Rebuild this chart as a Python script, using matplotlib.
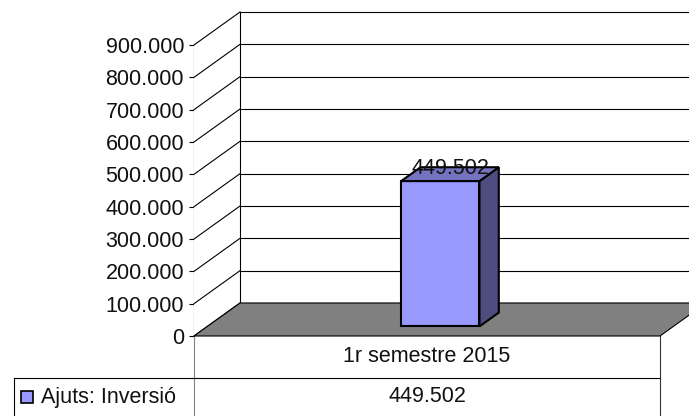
import matplotlib.pyplot as plt
import numpy as np
from matplotlib.patches import Polygon, Rectangle
from matplotlib.transforms import IdentityTransform

plt.rcParams['font.family'] = ['Liberation Sans', 'DejaVu Sans']

# chart data
categories = ['1r semestre 2015']
values = [449502]
series_name = 'Ajuts: Inversió'
yticks = np.arange(0, 900001, 100000)

bar_face = '#9999FF'
bar_side = '#4D4D80'
bar_top = '#7373BF'
floor_col = '#808080'
FS = 15.5

W, H = 689, 416
fig = plt.figure(figsize=(W / 100, H / 100), dpi=100)
ax = fig.add_axes([194 / W, 80 / H, 466 / W, 291 / H])
ax.set_xlim(0, len(categories))
ax.set_ylim(0, yticks[-1])

DX, DY = 46, 33  # depth offset of the back wall, pixels


def fmt(v):
    return f"{v:,.0f}".replace(',', '.')


def P(x, y, d=0.0):
    px, py = ax.transData.transform((x, y))
    return (px + d * DX, py + d * DY)


def poly(pts, fc, ec='black', lw=0.8, z=1):
    p = Polygon(pts, closed=True, facecolor=fc, edgecolor=ec, linewidth=lw,
                transform=IdentityTransform(), zorder=z, clip_on=False)
    fig.add_artist(p)


def line(p0, p1, color='black', lw=0.8, z=2):
    fig.add_artist(plt.Line2D([p0[0], p1[0]], [p0[1], p1[1]], color=color,
                              linewidth=lw, transform=IdentityTransform(),
                              zorder=z, clip_on=False))


# axes styling: only the left (front) axis with ticks
ax.patch.set_visible(False)
for s in ['top', 'right', 'bottom']:
    ax.spines[s].set_visible(False)
ax.spines['left'].set_linewidth(0.8)
ax.spines['left'].set_zorder(5)
ax.set_xticks([])
ax.set_yticks(yticks)
ax.set_yticklabels([fmt(v) for v in yticks], fontsize=FS, color='#111111')
ax.tick_params(axis='y', direction='out', length=3.6, width=0.8, pad=3.6)

n = len(categories)
top = yticks[-1]

# back wall and left wall
poly([P(0, 0, 1), P(n, 0, 1), P(n, top, 1), P(0, top, 1)], 'white', ec='none', z=0.5)
poly([P(0, 0, 0), P(0, top, 0), P(0, top, 1), P(0, 0, 1)], 'white', ec='none', z=0.5)
for v in yticks:
    line(P(0, v, 1), P(n, v, 1))
    line(P(0, v, 0), P(0, v, 1))
line(P(0, 0, 1), P(0, top, 1))

# floor
poly([P(0, 0, 0), P(n, 0, 0), P(n, 0, 1), P(0, 0, 1)], floor_col, z=3)

# bars
bw = 0.168
d0, d1 = 0.29, 0.71
for i, v in enumerate(values):
    x0, x1 = i + 0.5 - bw / 2, i + 0.5 + bw / 2
    poly([P(x0, 0, d0), P(x1, 0, d0), P(x1, v, d0), P(x0, v, d0)], bar_face, lw=1.5, z=4)
    poly([P(x1, 0, d0), P(x1, 0, d1), P(x1, v, d1), P(x1, v, d0)], bar_side, lw=1.5, z=4)
    poly([P(x0, v, d0), P(x1, v, d0), P(x1, v, d1), P(x0, v, d1)], bar_top, lw=1.5, z=4)
    tx, ty = P(i + 0.5, v, 0.5)
    fig.text(tx / W, ty / H, fmt(v), ha='center', va='baseline', fontsize=FS,
             color='#111111', zorder=6)

# data table below the chart
x_left = P(0, 0)[0]
x_right = P(n, 0)[0]
y_floor = P(0, 0)[1]
row_y = 38
leg_x = 14
line((leg_x, row_y), (x_right, row_y))
line((leg_x, 0), (leg_x, row_y))
line((x_left, 0), (x_left, y_floor), color='#808080', z=1)
line((x_right, 0), (x_right, y_floor), color='#333333')
for i, (c, v) in enumerate(zip(categories, values)):
    cx = P(i + 0.5, 0)[0]
    fig.text(cx / W, (y_floor + row_y) / 2 / H, c, ha='center', va='center',
             fontsize=FS, color='#111111')
    fig.text(cx / W, row_y / 2 / H, fmt(v), ha='center', va='center',
             fontsize=FS, color='#111111')

fig.add_artist(Rectangle((21, 13), 12, 12, facecolor=bar_face, edgecolor='black',
                         linewidth=1.2, transform=IdentityTransform(), zorder=3))
fig.text(41 / W, row_y / 2 / H, series_name, ha='left', va='center',
         fontsize=FS, color='#111111')

fig.savefig('out.png', dpi=100, facecolor='white')
